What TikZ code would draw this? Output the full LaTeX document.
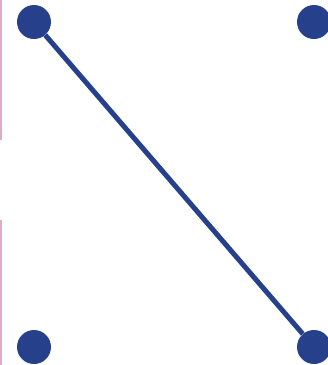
\documentclass[tikz,border=0pt]{standalone}
\usepackage{xcolor}
\usepackage{tikz}
\definecolor{bleu}{RGB}{38,64,140}
\definecolor{rose}{RGB}{226,170,196}

\begin{document}
\begin{tikzpicture}[
    x=1pt, y=1pt,
    point/.style={circle, fill=bleu, inner sep=0pt, minimum size=34pt},
    trait/.style={draw=bleu, line width=5pt},
  ]
  \clip (0,0) rectangle (328,-365);
  \useasboundingbox (0,0) rectangle (328,-365);
  % bord de l'accolade
  \draw[rose, line width=1.6pt] (0.8,0) -- (0.8,-140);
  \draw[rose, line width=1.6pt] (0.8,-220) -- (0.8,-365);
  \node[point] (A) at (34,-22) {};
  \node[point] (B) at (314,-22) {};
  \node[point] (C) at (34,-347) {};
  \node[point] (D) at (314,-347) {};
  \draw[trait] (A) -- (D);
\end{tikzpicture}
\end{document}
